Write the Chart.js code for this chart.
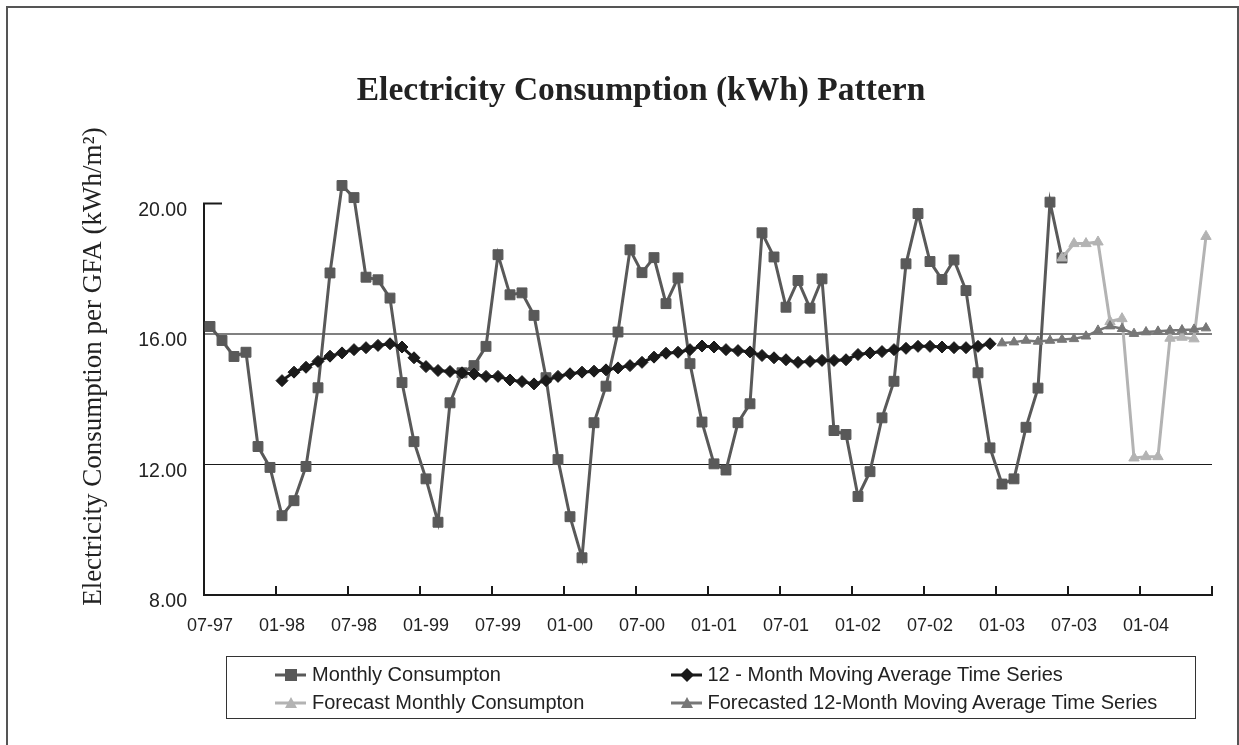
<!DOCTYPE html>
<html><head><meta charset="utf-8">
<script src="https://cdn.jsdelivr.net/npm/chart.js@4.4.1/dist/chart.umd.min.js"></script>
<style>
html,body{margin:0;padding:0;background:#fff;overflow:hidden}
#wrap{position:relative;width:1239px;height:745px;overflow:hidden;background:#fff}
#frame{position:absolute;left:6px;top:6px;width:1233px;height:800px;border:2px solid #555;box-sizing:border-box;pointer-events:none}
#legend{position:absolute;left:226px;top:656px;width:970px;height:63px;border:1.5px solid #333;box-sizing:border-box;font-family:"Liberation Sans",Arial,sans-serif;font-size:20px;color:#222}
.item{position:absolute;display:flex;align-items:center;height:24px;white-space:nowrap}
.item svg{margin-right:6px;flex:none}
</style></head><body>
<div id="wrap"><canvas id="c" width="1239" height="745"></canvas><div id="frame"></div><div id="legend"></div></div>
<script>
const months = [
 '07-97','08-97','09-97','10-97','11-97','12-97',
 '01-98','02-98','03-98','04-98','05-98','06-98','07-98','08-98','09-98','10-98','11-98','12-98',
 '01-99','02-99','03-99','04-99','05-99','06-99','07-99','08-99','09-99','10-99','11-99','12-99',
 '01-00','02-00','03-00','04-00','05-00','06-00','07-00','08-00','09-00','10-00','11-00','12-00',
 '01-01','02-01','03-01','04-01','05-01','06-01','07-01','08-01','09-01','10-01','11-01','12-01',
 '01-02','02-02','03-02','04-02','05-02','06-02','07-02','08-02','09-02','10-02','11-02','12-02',
 '01-03','02-03','03-03','04-03','05-03','06-03','07-03','08-03','09-03','10-03','11-03','12-03',
 '01-04','02-04','03-04','04-04','05-04','06-04'
];
const tickLabels = ['07-97','01-98','07-98','01-99','07-99','01-00','07-00','01-01','07-01','01-02','07-02','01-03','07-03','01-04'];
const yTicks = [8, 12, 16, 20];

const monthly = [
 16.23,15.80,15.31,15.44,12.55,11.91,
 10.43,10.89,11.94,14.35,17.87,20.55,20.18,17.74,17.66,17.10,14.51,12.70,
 11.56,10.23,13.89,14.81,15.03,15.62,18.43,17.20,17.26,16.57,14.66,12.15,
 10.40,9.14,13.28,14.40,16.06,18.58,17.88,18.34,16.93,17.72,15.09,13.30,
 12.02,11.83,13.28,13.86,19.10,18.36,16.82,17.64,16.79,17.69,13.04,12.92,
 11.02,11.78,13.43,14.55,18.15,19.69,18.22,17.67,18.27,17.33,14.81,12.51,
 11.40,11.56,13.14,14.34,20.04,18.33,
 null,null,null,null,null,null,null,null,null,null,null,null
];
const movingAvg = [
 null,null,null,null,null,null,
 14.57,14.83,14.98,15.16,15.32,15.42,15.52,15.58,15.65,15.70,15.60,15.27,
 15.00,14.88,14.85,14.81,14.77,14.70,14.70,14.59,14.54,14.47,14.57,14.70,
 14.78,14.83,14.86,14.90,14.96,15.03,15.13,15.29,15.41,15.44,15.52,15.63,
 15.60,15.52,15.49,15.45,15.34,15.27,15.21,15.13,15.16,15.19,15.19,15.21,
 15.37,15.42,15.46,15.52,15.56,15.62,15.62,15.60,15.58,15.58,15.62,15.70,
 null,null,null,null,null,null,null,null,null,null,null,null,
 null,null,null,null,null,null
];
const forecastMonthly = [
 null,null,null,null,null,null,null,null,null,null,null,null,
 null,null,null,null,null,null,null,null,null,null,null,null,
 null,null,null,null,null,null,null,null,null,null,null,null,
 null,null,null,null,null,null,null,null,null,null,null,null,
 null,null,null,null,null,null,null,null,null,null,null,null,
 null,null,null,null,null,null,null,null,null,null,null,
 18.33,18.77,18.77,18.82,16.38,16.47,12.20,12.24,12.24,15.87,15.90,15.85,18.99
];
const forecastMovingAvg = [
 null,null,null,null,null,null,null,null,null,null,null,null,
 null,null,null,null,null,null,null,null,null,null,null,null,
 null,null,null,null,null,null,null,null,null,null,null,null,
 null,null,null,null,null,null,null,null,null,null,null,null,
 null,null,null,null,null,null,null,null,null,null,null,null,
 null,null,null,null,null,null,
 15.72,15.75,15.80,15.77,15.80,15.83,15.85,15.93,16.11,16.24,16.16,16.01,
 16.06,16.08,16.11,16.12,16.14,16.18
];

const axisDecor = {
  id: 'axisDecor',
  beforeDatasetsDraw(chart) {
    const {ctx, chartArea: a, scales: {x, y}} = chart;
    ctx.save();
    ctx.strokeStyle = '#1a1a1a';
    ctx.lineWidth = 2;
    const yb = y.getPixelForValue(yTicks[0]);
    const yt = y.getPixelForValue(yTicks[yTicks.length - 1]);
    ctx.beginPath();
    ctx.moveTo(a.left, yb + 1);
    ctx.lineTo(a.left, yt);
    ctx.lineTo(a.left + 18, yt);
    ctx.stroke();
    const half = (x.getPixelForValue(1) - x.getPixelForValue(0)) / 2;
    ctx.beginPath();
    for (let i = 0; i <= months.length; i += 6) {
      const px = i < months.length ? x.getPixelForValue(i) - half : x.getPixelForValue(months.length - 1) + half;
      ctx.moveTo(px, a.bottom);
      ctx.lineTo(px, a.bottom - 9);
    }
    ctx.stroke();
    ctx.restore();
  }
};

const sans = '"Liberation Sans", Arial, sans-serif';
const serif = '"Liberation Serif", "Times New Roman", serif';

const chart = new Chart(document.getElementById('c'), {
  type: 'line',
  data: {
    labels: months,
    datasets: [
      {label: 'Monthly Consumpton', data: monthly, borderColor: '#595959', backgroundColor: '#595959',
       borderWidth: 3, pointStyle: 'rect', pointRadius: 7, pointBorderWidth: 1, order: 4, mk: 'rect'},
      {label: '12 - Month Moving Average Time Series', data: movingAvg, borderColor: '#1a1a1a', backgroundColor: '#1a1a1a',
       borderWidth: 3, pointStyle: 'rectRot', pointRadius: 6, pointBorderWidth: 1, order: 3, mk: 'diamond'},
      {label: 'Forecast Monthly Consumpton', data: forecastMonthly, borderColor: '#b3b3b3', backgroundColor: '#b3b3b3',
       borderWidth: 3, pointStyle: 'triangle', pointRadius: 6, pointBorderWidth: 1, order: 2, mk: 'tri'},
      {label: 'Forecasted 12-Month Moving Average Time Series', data: forecastMovingAvg, borderColor: '#777777', backgroundColor: '#777777',
       borderWidth: 2.5, pointStyle: 'triangle', pointRadius: 5.5, pointBorderWidth: 1, order: 1, mk: 'tri'}
    ]
  },
  options: {
    responsive: false,
    animation: false,
    devicePixelRatio: 1,
    spanGaps: false,
    layout: {padding: {left: 70, right: 27, top: 0, bottom: 0}},
    elements: {line: {tension: 0}},
    plugins: {
      legend: {display: false},
      tooltip: {enabled: false},
      title: {display: true, text: 'Electricity Consumption (kWh) Pattern', color: '#222',
              font: {family: serif, size: 33.5, weight: 'bold'}, padding: {top: 71, bottom: 27}}
    },
    scales: {
      x: {
        type: 'category', offset: true,
        grid: {display: true, drawOnChartArea: false, drawTicks: false, color: 'rgba(0,0,0,0)', offset: true},
        border: {display: true, color: '#1a1a1a', width: 2},
        ticks: {autoSkip: false, maxRotation: 0, minRotation: 0, padding: 20, color: '#222',
                font: {family: sans, size: 18},
                callback: function (v) { const l = this.getLabelForValue(v); return tickLabels.includes(l) ? l : ''; }},
        afterFit: s => { s.height = 150; }
      },
      y: {
        min: 8, max: 22,
        afterBuildTicks: s => { s.ticks = yTicks.map(v => ({value: v})); },
        grid: {drawTicks: false,
               color: c => c.tick && c.tick.value === 16 ? '#808080' : (c.tick && c.tick.value === 12 ? '#1a1a1a' : 'rgba(0,0,0,0)'),
               lineWidth: c => c.tick && c.tick.value === 16 ? 2 : 1},
        border: {display: false},
        ticks: {padding: 17, labelOffset: 7, color: '#222', font: {family: sans, size: 19.5},
                callback: v => Number(v).toFixed(2)},
        title: {display: true, text: 'Electricity Consumption per GFA (kWh/m²)', color: '#222',
                font: {family: serif, size: 27}, padding: {top: 8, bottom: 0}},
        afterFit: s => { s.width = 134; }
      }
    }
  },
  plugins: [axisDecor]
});

// HTML legend built from the chart's datasets
const legendPos = [[48, 5.5], [443.5, 5.5], [48, 33.5], [443.5, 33.5]];
const legendEl = document.getElementById('legend');
chart.data.datasets.forEach((ds, i) => {
  const c = ds.borderColor;
  let m = '';
  if (ds.mk === 'rect') m = `<rect x="10" y="2" width="12" height="12" fill="${c}"/>`;
  else if (ds.mk === 'diamond') m = `<polygon points="16,1 23,8 16,15 9,8" fill="${c}"/>`;
  else m = `<polygon points="16,2 22,13 10,13" fill="${c}"/>`;
  const it = document.createElement('div');
  it.className = 'item';
  it.style.left = legendPos[i][0] + 'px';
  it.style.top = legendPos[i][1] + 'px';
  it.innerHTML = `<svg width="31" height="16"><line x1="0" y1="8" x2="31" y2="8" stroke="${c}" stroke-width="3"/>${m}</svg><span>${ds.label}</span>`;
  legendEl.appendChild(it);
});
</script>
</body></html>
